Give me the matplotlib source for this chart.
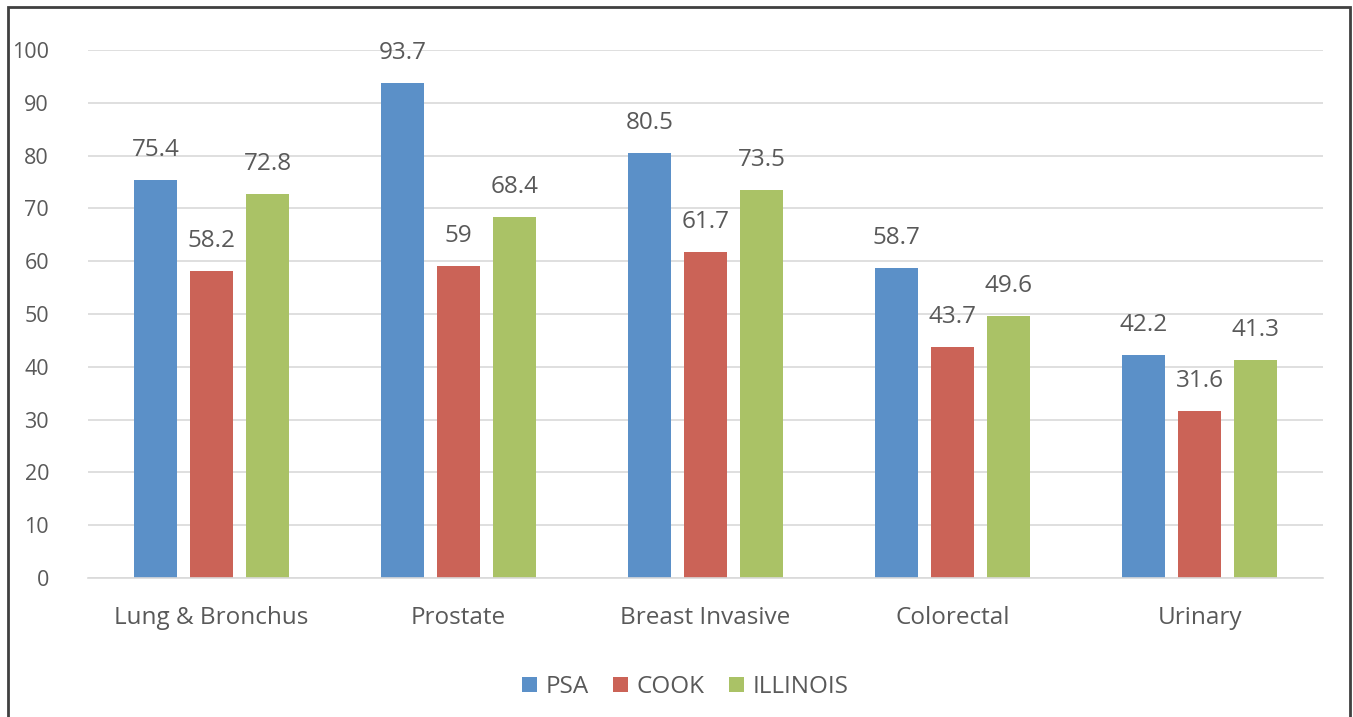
import numpy as np
import matplotlib.pyplot as plt
from matplotlib.patches import Rectangle

categories = ['Lung & Bronchus', 'Prostate', 'Breast Invasive', 'Colorectal', 'Urinary']
psa = [75.4, 93.7, 80.5, 58.7, 42.2]
cook = [58.2, 59, 61.7, 43.7, 31.6]
illinois = [72.8, 68.4, 73.5, 49.6, 41.3]
series_names = ['PSA', 'COOK', 'ILLINOIS']
colors = ['#5B90C8', '#CB6357', '#AAC266']

text_color = '#595959'
fs = 17.5
plt.rcParams['font.family'] = ['Open Sans', 'DejaVu Sans']

fig = plt.figure(figsize=(13.53, 7.17), dpi=100)
ax = fig.add_axes([88 / 1353, 1 - 578 / 717, 1235 / 1353, 528 / 717])

# outer chart border (runs past the bottom edge)
fig.patches.append(Rectangle((8 / 1353, -0.05), 1342 / 1353, 1 - 7 / 717 + 0.05,
                             transform=fig.transFigure, fill=False,
                             edgecolor='#404040', linewidth=2))

x = np.arange(len(categories))
width = 0.174
step = 0.227
for i, (vals, name, c) in enumerate(zip([psa, cook, illinois], series_names, colors)):
    pos = x + (i - 1) * step
    ax.bar(pos, vals, width, color=c, label=name, zorder=2)
    for p, v in zip(pos, vals):
        ax.text(p, v + 5.7, f'{v:g}', ha='center', va='center',
                fontsize=fs, color=text_color)

ax.set_xlim(-0.5, len(categories) - 0.5)
ax.set_ylim(0, 100)
ax.set_yticks(range(0, 101, 10))
ax.set_xticks(x)
ax.set_xticklabels(categories)
ax.grid(axis='y', color='#D9D9D9', linewidth=1.2, zorder=0)
ax.set_axisbelow(True)
for s in ['top', 'right', 'left']:
    ax.spines[s].set_visible(False)
ax.spines['bottom'].set_color('#D9D9D9')
ax.spines['bottom'].set_linewidth(1.2)
ax.tick_params(axis='both', length=0, labelcolor=text_color)
ax.tick_params(axis='x', labelsize=fs, pad=20)
ax.tick_params(axis='y', labelsize=15.5, pad=28)

fig.legend(loc='center', bbox_to_anchor=(685 / 1353, 1 - 687 / 717), ncol=3,
           frameon=False, fontsize=fs, handlelength=0.62, handleheight=0.62,
           handletextpad=0.35, columnspacing=1.0, labelcolor=text_color)

fig.savefig('out.png', dpi=100, facecolor='white')
